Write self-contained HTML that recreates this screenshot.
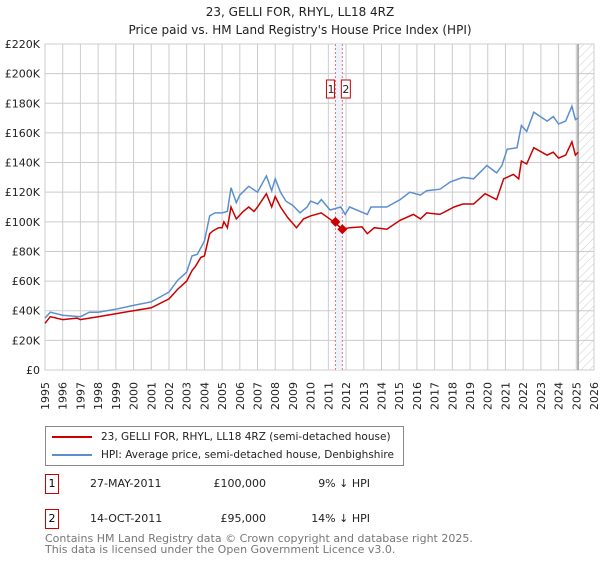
<!DOCTYPE html>
<html><head><meta charset="utf-8"><style>
body{margin:0;background:#fff;font-family:"DejaVu Sans","Liberation Sans",sans-serif;}
svg text{font-family:"DejaVu Sans","Liberation Sans",sans-serif;}
</style></head><body>
<svg id="chart" width="600" height="560" viewBox="0 0 600 560" xmlns="http://www.w3.org/2000/svg">
<defs><pattern id="hatch" width="6" height="6" patternUnits="userSpaceOnUse" patternTransform="rotate(45)"><line x1="0" y1="0" x2="0" y2="6" stroke="#ccc" stroke-width="1"/></pattern></defs>
<text x="300" y="16" text-anchor="middle" font-size="12" fill="#222">23, GELLI FOR, RHYL, LL18 4RZ</text>
<text x="300" y="34" text-anchor="middle" font-size="12" fill="#222">Price paid vs. HM Land Registry's House Price Index (HPI)</text>
<g id="grid"></g>
<g id="marks"></g>
<g id="axes"></g>
</svg>
<script>
const yearTicks=[1995,1996,1997,1998,1999,2000,2001,2002,2003,2004,2005,2006,2007,2008,2009,2010,2011,2012,2013,2014,2015,2016,2017,2018,2019,2020,2021,2022,2023,2024,2025,2026];
const valueTicks=[0,20000,40000,60000,80000,100000,120000,140000,160000,180000,200000,220000];
const valueTickLabels=["£0","£20K","£40K","£60K","£80K","£100K","£120K","£140K","£160K","£180K","£200K","£220K"];
const hpiTimes=[1995,1995.3,1996,1997,1997.5,1998,1999,2000,2001,2002,2002.5,2003,2003.3,2003.6,2004,2004.3,2004.6,2005,2005.3,2005.5,2005.8,2006,2006.5,2007,2007.5,2007.8,2008,2008.3,2008.6,2009,2009.4,2009.8,2010,2010.4,2010.6,2011.1,2011.7,2011.95,2012.2,2013.2,2013.4,2014.3,2015.05,2015.6,2016.2,2016.55,2017.3,2017.9,2018.6,2019.2,2019.95,2020.5,2020.8,2021.1,2021.65,2021.9,2022.2,2022.6,2023.35,2023.7,2024.0,2024.4,2024.75,2024.95,2025.1];
const hpiValues=[35000,39000,37000,36000,39000,39000,41000,43600,46000,52600,60700,66000,77000,78000,87000,104000,106000,106000,107000,123000,113000,118000,124000,120000,131000,121000,129000,120000,114000,111000,106000,110000,114000,112000,115000,108000,110000,105000,110000,105000,110000,110000,115000,120000,118000,121000,122000,127000,130000,129000,138000,133000,138000,149000,150000,165000,161000,174000,168000,171000,166000,168000,178000,169000,170000];
const priceTimes=[1995,1995.3,1996,1996.8,1997,1998,1999,2000,2001,2002,2002.5,2003,2003.3,2003.5,2003.8,2004,2004.3,2004.5,2004.8,2005,2005.1,2005.3,2005.5,2005.8,2006.2,2006.5,2006.8,2007,2007.5,2007.8,2008,2008.3,2008.7,2009.2,2009.6,2010,2010.6,2011.3,2011.8,2012.2,2012.9,2013.2,2013.6,2014.3,2015.05,2015.8,2016.2,2016.55,2017.3,2018.1,2018.6,2019.2,2019.85,2020.5,2020.9,2021.45,2021.75,2021.9,2022.2,2022.6,2023.35,2023.7,2024.0,2024.4,2024.75,2024.95,2025.1];
const priceValues=[31500,36000,34000,35000,34000,36000,38000,40000,42000,48000,54600,60000,67000,70000,76000,77000,92000,94000,96000,96000,100000,96000,110000,102000,107000,110000,107000,110000,119000,110000,117000,110000,103000,96000,102000,104000,106000,100000,95000,96000,96600,92000,96000,95000,101000,105000,102000,106000,105000,110000,112000,112000,119000,115000,129000,132000,129000,141000,139000,150000,145000,147000,143000,145000,154000,145000,147000];
const saleTimes=[2011.4,2011.79];
const saleValues=[100000,95000];
const saleLabels=["1","2"];
const x0=45,x1=594,y0=370,y1=44,tMin=1995,tMax=2026,vMax=220000,forecastStart=2025.1;
const X=t=>x0+(t-tMin)/(tMax-tMin)*(x1-x0);
const Y=v=>y0-(v/vMax)*(y0-y1);
const NS="http://www.w3.org/2000/svg";
function mk(tag,parent,attrs){const e=document.createElementNS(NS,tag);for(const k in attrs)e.setAttribute(k,attrs[k]);parent.appendChild(e);return e;}
const grid=document.getElementById('grid'),marks=document.getElementById('marks'),axes=document.getElementById('axes');
mk('rect',grid,{x:x0,y:y1,width:x1-x0,height:y0-y1,fill:'#fff',stroke:'#ccc'});
yearTicks.forEach(t=>{const l=mk('line',grid,{x1:X(t),x2:X(t),y1:y1,y2:y0,stroke:'#ccc','stroke-width':1});


const tx=mk('text',axes,{x:0,y:0,'text-anchor':'end','font-size':11,fill:'#222',transform:`translate(${X(t)+4},${y0+12}) rotate(-90)`});tx.textContent=t;

});
valueTicks.forEach((v,i)=>{const l=mk('line',grid,{x1:x0,x2:x1,y1:Y(v),y2:Y(v),stroke:'#ccc','stroke-width':1});


const tx=mk('text',axes,{x:40,y:Y(v)+4,'text-anchor':'end','font-size':11,fill:'#222'});tx.textContent=valueTickLabels[i];

});
const fc=mk('rect',grid,{x:X(forecastStart),y:y1,width:x1-X(forecastStart),height:y0-y1,fill:'url(#hatch)'});


const fl=mk('line',grid,{x1:X(forecastStart),x2:X(forecastStart),y1:y1,y2:y0,stroke:'#999','stroke-width':1.5});


const band=mk('rect',grid,{x:X(saleTimes[0]),y:y1,width:X(saleTimes[1])-X(saleTimes[0]),height:y0-y1,fill:'#eef3fb'});


saleTimes.forEach(t=>{const l=mk('line',grid,{x1:X(t),x2:X(t),y1:y1,y2:y0,stroke:'#f07070','stroke-dasharray':'2,2','stroke-width':1});

});
const pts=(ts,vs)=>ts.map((t,i)=>X(t).toFixed(1)+','+Y(vs[i]).toFixed(1)).join(' ');
const hl=mk('polyline',marks,{points:pts(hpiTimes,hpiValues),fill:'none',stroke:'#5b8fd0','stroke-width':1.5});


const pl=mk('polyline',marks,{points:pts(priceTimes,priceValues),fill:'none',stroke:'#cc0000','stroke-width':1.5});


saleTimes.forEach((t,i)=>{const cx=X(t),cy=Y(saleValues[i]);
const d=mk('polygon',marks,{points:`${cx},${cy-5} ${cx+5},${cy} ${cx},${cy+5} ${cx-5},${cy}`,fill:'#cc0000'});


const bx=i==0?cx-9:cx-1;
const b=mk('rect',marks,{x:bx,y:80,width:i==0?8:9,height:18,fill:'#fff',stroke:'#cc0000'});


const tx=mk('text',marks,{x:bx+4.5,y:93,'text-anchor':'middle','font-size':11,fill:'#222'});tx.textContent=saleLabels[i];

});
</script>
<div style="position:absolute;left:45px;top:426px;width:359px;height:40px;border:1px solid #888;box-sizing:border-box;font-size:10.5px;color:#222;">
 <div style="position:absolute;left:6px;top:4px;white-space:nowrap;"><span style="display:inline-block;width:40px;height:2px;background:#cc0000;vertical-align:middle;margin-right:9px;"></span>23, GELLI FOR, RHYL, LL18 4RZ (semi-detached house)</div>
 <div style="position:absolute;left:6px;top:22px;white-space:nowrap;"><span style="display:inline-block;width:40px;height:2px;background:#5b8fd0;vertical-align:middle;margin-right:9px;"></span>HPI: Average price, semi-detached house, Denbighshire</div>
</div>
<div style="position:absolute;left:45px;top:474px;width:14px;height:20px;border:1px solid #cc0000;box-sizing:border-box;font-size:11px;text-align:center;line-height:18px;">1</div>
<div style="position:absolute;left:90px;top:477px;font-size:11px;color:#222;">27-MAY-2011</div>
<div style="position:absolute;left:200px;width:66px;text-align:right;top:477px;font-size:11px;color:#222;">£100,000</div>
<div style="position:absolute;left:300px;width:70px;text-align:right;top:477px;font-size:11px;color:#222;">9% ↓ HPI</div>
<div style="position:absolute;left:45px;top:509px;width:14px;height:20px;border:1px solid #cc0000;box-sizing:border-box;font-size:11px;text-align:center;line-height:18px;">2</div>
<div style="position:absolute;left:90px;top:512px;font-size:11px;color:#222;">14-OCT-2011</div>
<div style="position:absolute;left:200px;width:66px;text-align:right;top:512px;font-size:11px;color:#222;">£95,000</div>
<div style="position:absolute;left:300px;width:70px;text-align:right;top:512px;font-size:11px;color:#222;">14% ↓ HPI</div>
<div style="position:absolute;left:45px;top:533px;font-size:11px;line-height:11px;color:#777;">Contains HM Land Registry data © Crown copyright and database right 2025.<br>This data is licensed under the Open Government Licence v3.0.</div>
</body></html>
